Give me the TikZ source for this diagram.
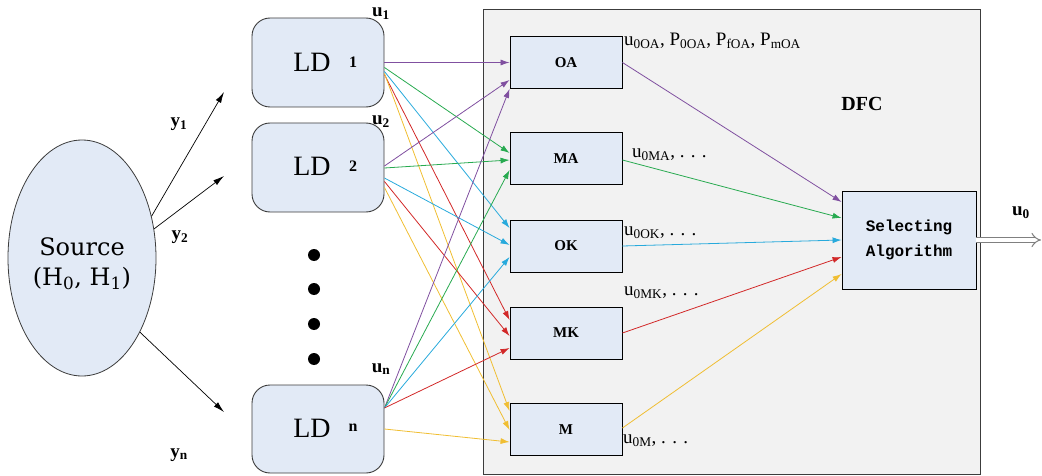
\documentclass[tikz,border=0pt]{standalone}
\usepackage{fontspec}
\setmainfont{Liberation Serif}
\newfontfamily\dvs{DejaVu Serif}
\newfontfamily\lmono{Liberation Mono}
\usetikzlibrary{arrows.meta,shapes.geometric}
\definecolor{boxfill}{RGB}{226,234,246}
\definecolor{dfcfill}{RGB}{242,242,242}
\definecolor{cpur}{RGB}{128,80,160}
\definecolor{cgrn}{RGB}{40,170,80}
\definecolor{ccya}{RGB}{40,170,220}
\definecolor{cred}{RGB}{210,40,40}
\definecolor{cyel}{RGB}{240,190,50}
\definecolor{edge}{RGB}{60,60,60}
\begin{document}
\begin{tikzpicture}[x=1pt,y=-1pt,
  ldbox/.style={draw=edge,line width=0.9pt,fill=boxfill,rounded corners=18pt,minimum width=132pt,minimum height=89pt,inner sep=0pt},
  inbox/.style={draw=black,line width=0.9pt,fill=boxfill,minimum width=112pt,minimum height=52pt,inner sep=0pt,font=\fontsize{15}{15}\selectfont\bfseries},
  ldtxt/.style={inner sep=0pt,font=\fontsize{28}{28}\selectfont},
  ldnum/.style={inner sep=0pt,font=\fontsize{16}{16}\selectfont\bfseries},
  lab/.style={inner sep=0pt,font=\fontsize{19}{19}\selectfont\bfseries},
  vlab/.style={inner sep=0pt,anchor=west,font=\fontsize{19}{19}\selectfont},
  dotn/.style={circle,fill=black,minimum size=12pt,inner sep=0pt},
  carr/.style={line width=0.8pt,-{Latex[length=9pt,width=6pt]}},
  sarr/.style={line width=0.7pt,black,-{Latex[length=11pt,width=6pt]}}
]
\useasboundingbox (0,0) rectangle (1042,476);
% DFC
\node[draw=edge,line width=1pt,fill=dfcfill,minimum width=497pt,minimum height=464pt,inner sep=0pt] (dfc) at (731.5,242) {};
\node[lab,font=\fontsize{20}{20}\selectfont\bfseries] (dfclab) at (862,104) {DFC};
% Source
\node[ellipse,draw=edge,line width=0.8pt,fill=boxfill,minimum width=148pt,minimum height=236pt,inner sep=0pt] (src) at (82,258) {};
\node[inner sep=0pt,font=\dvs\fontsize{24}{24}\selectfont,align=center] (srctxt) at (82,264) {Source\\[6pt](H\textsubscript{0}, H\textsubscript{1})};
% LD boxes
\node[ldbox] (LD1) at (318,62.5) {};
\node[ldbox] (LD2) at (318,167.5) {};
\node[ldbox,minimum height=88pt] (LDn) at (318,429) {};
\node[ldtxt] (ld1t) at (312,62) {LD};
\node[ldnum] (ld1n) at (353,62) {1};
\node[ldtxt] (ld2t) at (312,166) {LD};
\node[ldnum] (ld2n) at (353,166) {2};
\node[ldtxt] (ldnt) at (312,428) {LD};
\node[ldnum] (ldnn) at (353,428) {n};
\node[dotn] (d1) at (314,255) {};
\node[dotn] (d2) at (314,289) {};
\node[dotn] (d3) at (314,324) {};
\node[dotn] (d4) at (314,359) {};
\node[lab] (u1) at (381,14) {u\textsubscript{1}};
\node[lab] (u2) at (381,122) {u\textsubscript{2}};
\node[lab] (un) at (381,369) {u\textsubscript{n}};
% source arrows
\coordinate (t1) at (224,92);
\coordinate (t2) at (224,176);
\coordinate (tn) at (224,412);
\draw[sarr] (src.31.6) -- (t1);
\draw[sarr] (src.22) -- (t2);
\draw[sarr] (src.-52.5) -- (tn);
\node[lab] (y1) at (179,124) {y\textsubscript{1}};
\node[lab] (y2) at (180,237) {y\textsubscript{2}};
\node[lab] (yn) at (179,455) {y\textsubscript{n}};
% inner boxes
\node[inbox] (OA) at (566,62.5) {OA};
\node[inbox] (MA) at (566,158.5) {MA};
\node[inbox] (OK) at (566,246) {OK};
\node[inbox] (MK) at (566,333) {MK};
\node[inbox] (M) at (566,429.5) {M};
\node[draw=black,line width=0.9pt,fill=boxfill,minimum width=134pt,minimum height=98pt,inner sep=0pt,align=center,font=\lmono\bfseries\fontsize{16}{25}\selectfont] (sel) at (909,240) {Selecting\\Algorithm};
% LD -> boxes
\draw[carr,cpur] (LD1.east) -- (OA.west);
\draw[carr,cgrn] ([yshift=-5pt]LD1.east) -- ([yshift=5.5pt]MA.west);
\draw[carr,ccya] ([yshift=-9pt]LD1.east) -- ([yshift=18pt]OK.west);
\draw[carr,cred] ([yshift=-12pt]LD1.east) -- ([yshift=13pt]MK.west);
\draw[carr,cyel] ([yshift=-11pt]LD1.east) -- ([yshift=18.5pt]M.west);
\draw[carr,cpur] ([yshift=1.5pt]LD2.east) -- ([yshift=-17.5pt]OA.west);
\draw[carr,cgrn] ([yshift=-0.5pt]LD2.east) -- ([yshift=-1.5pt]MA.west);
\draw[carr,ccya] ([yshift=-10.5pt]LD2.east) -- ([yshift=1pt]OK.west);
\draw[carr,cred] ([yshift=-14pt]LD2.east) -- ([yshift=-3pt]MK.west);
\draw[carr,cyel] ([yshift=-20pt]LD2.east) -- ([yshift=-0.5pt]M.west);
\draw[carr,cpur] ([yshift=21pt]LDn.east) -- (OA.south west);
\draw[carr,cgrn] ([yshift=21pt]LDn.east) -- ([yshift=-11.5pt]MA.west);
\draw[carr,ccya] ([yshift=21pt]LDn.east) -- ([yshift=-11pt]OK.west);
\draw[carr,cred] ([yshift=21pt]LDn.east) -- ([yshift=-15pt]MK.west);
\draw[carr,cyel] (LDn.east) -- ([yshift=-12.5pt]M.west);
% boxes -> selecting
\draw[carr,cpur] (OA.east) -- ([yshift=38pt]sel.west);
\draw[carr,cgrn] ([yshift=-1.5pt]MA.east) -- ([yshift=22pt]sel.west);
\draw[carr,ccya] (OK.east) -- (sel.west);
\draw[carr,cred] (MK.east) -- ([yshift=-17pt]sel.west);
\draw[carr,cyel] ([yshift=1.5pt]M.east) -- ([yshift=-34pt]sel.west);
% output
\coordinate (out) at (1041,240);
\draw[draw=gray,line width=1pt,double=white,double distance=4pt,-{Implies[length=8pt]}] (sel.east) -- (out);
\node[lab] (u0) at (1021,213) {u\textsubscript{0}};
% value labels
\node[vlab] (l1) at (624,41) {u\textsubscript{0OA}, P\textsubscript{0OA}, P\textsubscript{fOA}, P\textsubscript{mOA}};
\node[vlab] (l2) at (632,155) {u\textsubscript{0MA}, . . .};
\node[vlab] (l3) at (624,233) {u\textsubscript{0OK}, . . .};
\node[vlab] (l4) at (624,293) {u\textsubscript{0MK}, . . .};
\node[vlab] (l5) at (623,441) {u\textsubscript{0M}, . . .};
\end{tikzpicture}
\end{document}
